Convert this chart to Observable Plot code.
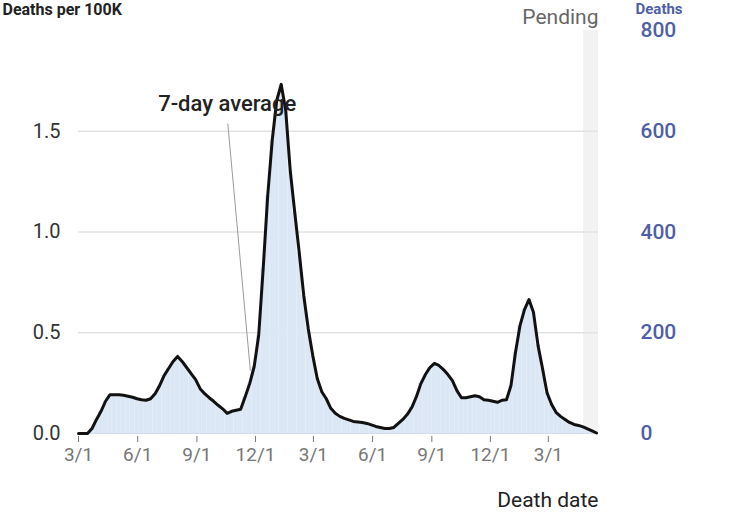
<!DOCTYPE html>
<html>
<head>
<meta charset="utf-8">
<script src="https://cdn.jsdelivr.net/npm/d3@7"></script>
<script src="https://cdn.jsdelivr.net/npm/@observablehq/plot@0.6"></script>
<style>
  html, body { margin: 0; padding: 0; background: white; }
  #chart { width: 730px; height: 513px; overflow: hidden; }
</style>
</head>
<body>
<div id="chart"></div>
<script>
// Weekly readings of the 7-day average deaths (right axis, deaths), starting 2020-03-01
const weekStart = "2020-03-01";
const weeklyDeaths = [
  0,0,0,10,28,44,64,77,77,77,
  76,74,72,69,67,66,69,79,95,115,
  129,143,153,143,131,119,107,89,79,71,
  64,56,49,40,44,46,48,73,99,133,
  195,328,472,582,661,693,641,522,439,359,
  274,208,155,109,83,69,50,40,34,30,
  27,24,23,22,20,17,14,12,10,10,
  12,20,28,38,52,73,99,117,131,139,
  135,127,117,105,85,71,71,73,75,73,
  67,66,64,62,66,67,95,161,214,246,
  266,240,175,129,81,58,42,34,28,22,
  18,16,13,9,5,1
];
const domainDates = ["2020-03-01", "2022-05-18"];
const pendingDates = ["2022-04-25", "2022-05-18"];
const xTickDates = ["2020-03-01","2020-06-01","2020-09-01","2020-12-01","2021-03-01","2021-06-01","2021-09-01","2021-12-01","2022-03-01"];
const leftTicks = [0, 0.5, 1.0, 1.5];          // deaths per 100K
const rightTicks = [0, 200, 400, 600, 800];      // deaths
const deathsPer100K = 400;                       // deaths corresponding to 1.0 per 100K
const annotationText = [{date: "2020-10-18", value: 655, label: "7-day average"}];
const annotationLeader = [{d1: "2020-10-19", v1: 615, d2: "2020-11-23", v2: 125}];

const parse = d3.utcParse("%Y-%m-%d");
const start = parse(weekStart);
const data = weeklyDeaths.map((v, i) => ({date: d3.utcDay.offset(start, 7 * i), deaths: v}));
const half = 3.5 * 864e5;

const plot = Plot.plot({
  width: 730,
  height: 513,
  marginLeft: 78,
  marginRight: 132,
  marginTop: 30,
  marginBottom: 80,
  style: {fontFamily: "Roboto, sans-serif", fontSize: "19px", background: "white", overflow: "visible"},
  x: {type: "utc", domain: domainDates.map(parse)},
  y: {domain: [0, 800]},
  marks: [
    Plot.rect([{a: parse(pendingDates[0]), b: parse(pendingDates[1])}], {x1: "a", x2: "b", y1: 0, y2: 800, fill: "#f2f2f2"}),
    Plot.gridY(leftTicks.slice(1).map(t => t * deathsPer100K), {stroke: "#e3e3e3", strokeOpacity: 1, strokeWidth: 1.5}),
    Plot.rectY(data, {x1: d => new Date(+d.date - half), x2: d => new Date(+d.date + half), y: "deaths", fill: "#dbe7f4", inset: 0, clip: true}),
    Plot.ruleY([0], {stroke: "#d2deec"}),
    Plot.line(data, {x: "date", y: "deaths", stroke: "#111", strokeWidth: 3, strokeLinejoin: "round"}),
    Plot.link(annotationLeader, {x1: d => parse(d.d1), y1: "v1", x2: d => parse(d.d2), y2: "v2", stroke: "#9a9a9a", strokeWidth: 1}),
    Plot.text(annotationText, {x: d => parse(d.date), y: "value", text: "label", fontSize: 22, fontWeight: 500, fill: "#222"}),
    Plot.axisY({anchor: "left", ticks: leftTicks.map(t => t * deathsPer100K), tickFormat: d => (d / deathsPer100K).toFixed(1), tickSize: 0, tickPadding: 18, fontSize: 20, color: "#333", label: null}),
    Plot.axisY({anchor: "right", ticks: rightTicks, tickFormat: d => String(d), tickSize: 0, tickPadding: 42, fontSize: 21, fontWeight: 500, color: "#4f5fa5", label: null}),
    Plot.axisX({ticks: xTickDates.map(parse), tickFormat: d => `${d.getUTCMonth() + 1}/${d.getUTCDate()}`, tickSize: 6, tickPadding: 5, dy: 3, fontSize: 19, color: "#777", label: null}),
    Plot.text(["Pending"], {frameAnchor: "top-right", dy: -13, lineAnchor: "middle", textAnchor: "end", fontSize: 21, fill: "#666"}),
    Plot.text(["Death date"], {frameAnchor: "bottom-right", dy: 67, lineAnchor: "middle", textAnchor: "end", fontSize: 21, fill: "#222"}),
    Plot.text(["Deaths per 100K"], {frameAnchor: "top-left", dx: -76, dy: -27, lineAnchor: "top", textAnchor: "start", fontSize: 16, fontWeight: 700, fill: "#222"}),
    Plot.text(["Deaths"], {frameAnchor: "top-right", dx: 37, dy: -27, lineAnchor: "top", textAnchor: "start", fontSize: 15, fontWeight: 700, fill: "#4f5fa5"})
  ]
});
document.getElementById("chart").appendChild(plot);
</script>
</body>
</html>
